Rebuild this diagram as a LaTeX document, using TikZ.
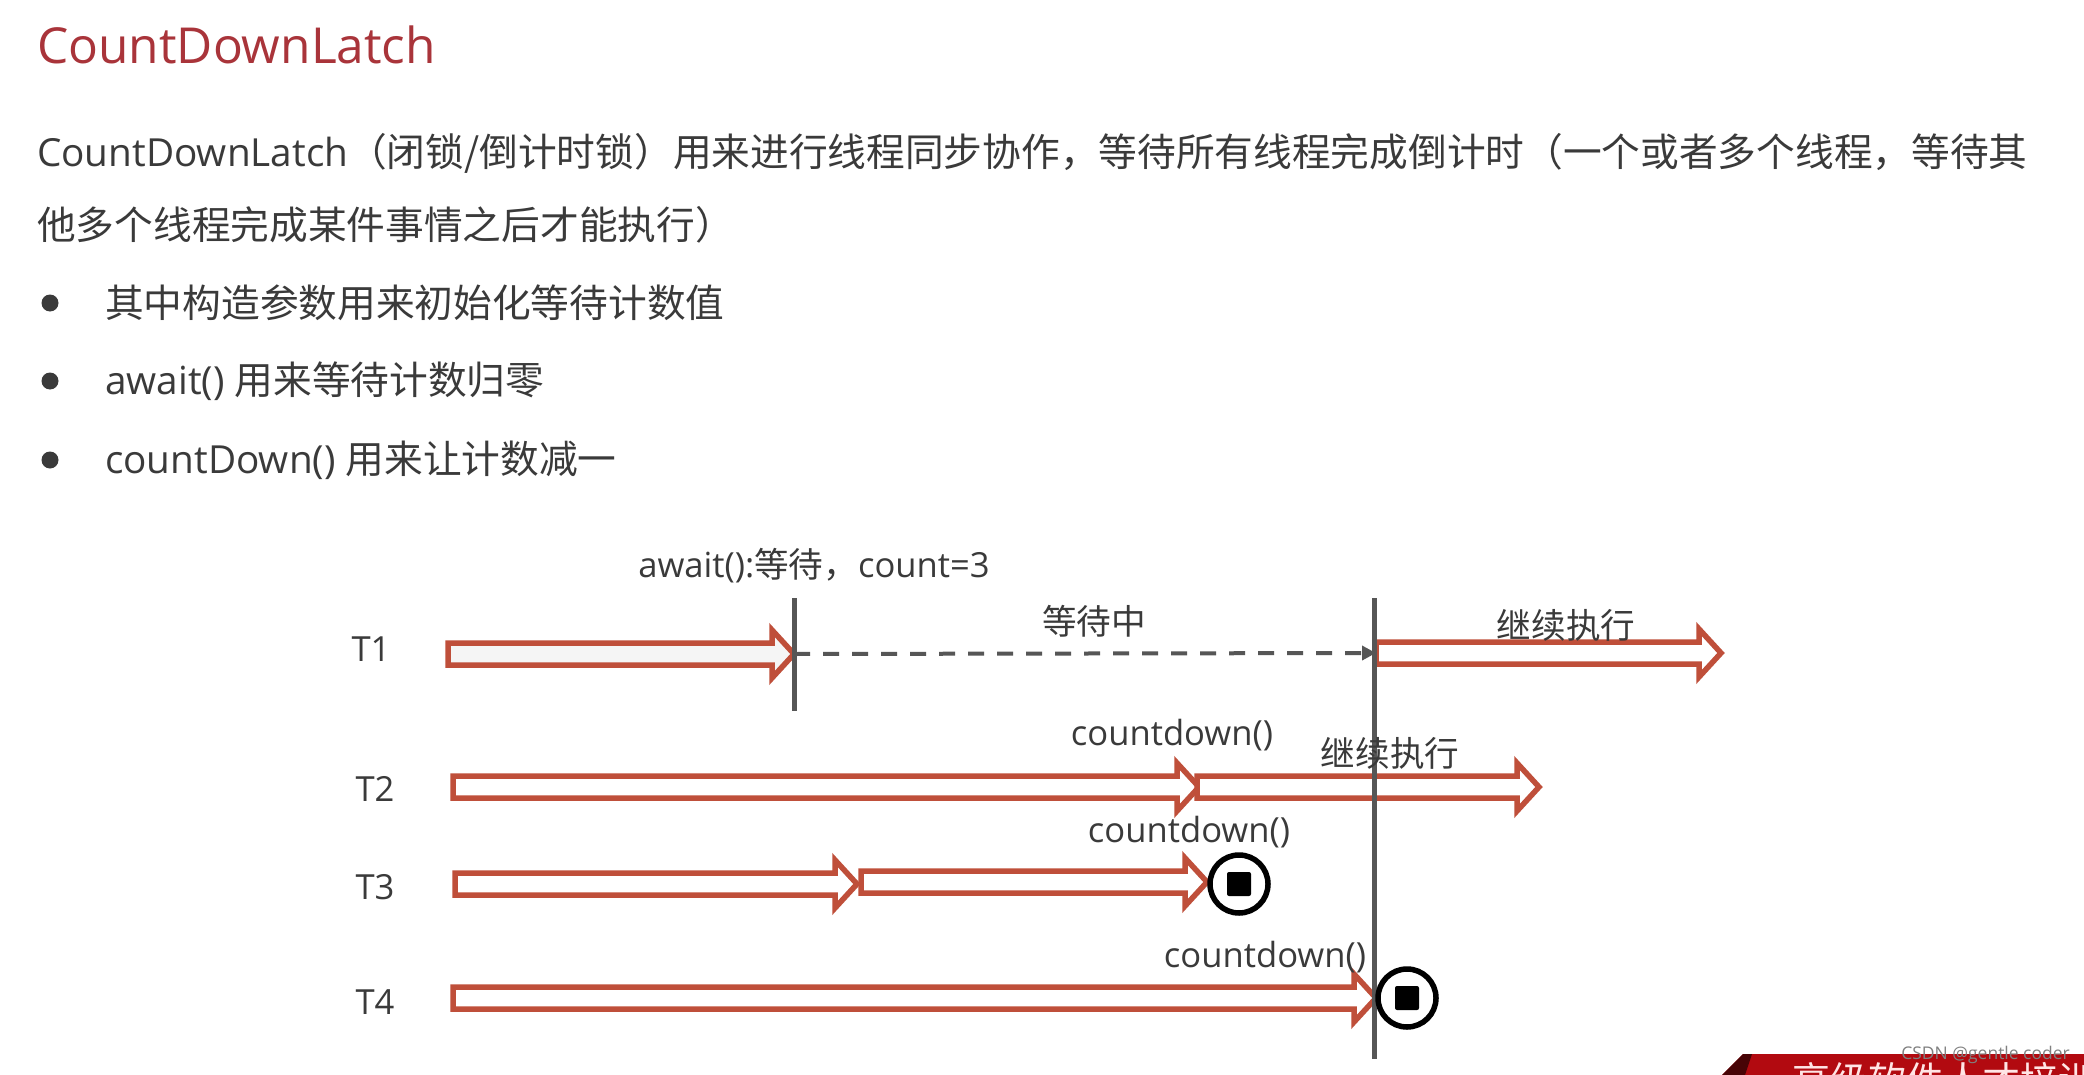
\documentclass[tikz,border=0pt]{standalone}
\usepackage{fontspec}
\setmainfont{Open Sans}
\newfontfamily\zhf{Noto Sans CJK SC}
\newcommand{\zh}[1]{{\zhf #1}}
\usetikzlibrary{calc,arrows.meta}
\definecolor{titlered}{HTML}{A9343A}
\definecolor{ink}{HTML}{3A3A3A}
\definecolor{fatred}{HTML}{BF4F3A}
\definecolor{barline}{HTML}{565656}
\definecolor{bandred}{HTML}{B20A10}
\tikzset{
  x=1pt,y=-1pt,
  bodytext/.style={font=\fontsize{38.7}{38.7}\selectfont,text=ink,anchor=west,inner sep=0pt},
  difftext/.style={font=\fontsize{34.6}{34.6}\selectfont,text=ink,anchor=center,inner sep=0pt},
  fatarrow/.style={draw=fatred,line width=5.5pt,fill=#1,miter limit=10},
  fatarrow/.default=white,
  barstyle/.style={draw=barline,line width=5pt},
  waitstyle/.style={draw=barline,line width=4pt,dash pattern=on 16pt off 13pt},
  stopring/.style={circle,draw=black,line width=5.5pt,fill=white,minimum size=58pt,inner sep=0pt},
  stopsquare/.style={rectangle,fill=black,rounded corners=2pt,minimum size=24pt,inner sep=0pt},
  bulletdot/.style={circle,fill=ink,minimum size=17pt,inner sep=0pt},
}
\newcommand{\fat}[3][white]{%
  \path[fatarrow=#1] let \p1=(#2),\p2=(#3) in
    (\x1,\y1-11pt) -- (\x2-22pt,\y1-11pt) -- (\x2-22pt,\y1-24pt) -- (\x2,\y2)
    -- (\x2-22pt,\y1+24pt) -- (\x2-22pt,\y1+11pt) -- (\x1,\y1+11pt) -- cycle;}
\begin{document}
\begin{tikzpicture}
\useasboundingbox (0,0) rectangle (2084,1075);
\fill[white] (0,0) rectangle (2084,1075);
% heading and text
\node[bodytext,font=\fontsize{49.6}{49.6}\selectfont,text=titlered] (title) at (37,45) {CountDownLatch};
\node[bodytext] (p1) at (37,153) {CountDownLatch\zh{（闭锁/倒计时锁）用来进行线程同步协作，等待所有线程完成倒计时（一个或者多个线程，等待其}};
\node[bodytext] (p2) at (37,225) {\zh{他多个线程完成某件事情之后才能执行）}};
\node[bulletdot] (b1) at (50,303) {};
\node[bulletdot] (b2) at (50,381) {};
\node[bulletdot] (b3) at (50,460) {};
\node[bodytext] (l1) at (105,303) {\zh{其中构造参数用来初始化等待计数值}};
\node[bodytext] (l2) at (105,381) {await() \zh{用来等待计数归零}};
\node[bodytext] (l3) at (105,460) {countDown() \zh{用来让计数减一}};
% thread labels
\node[difftext] (t1) at (371,649) {T1};
\node[difftext] (t2) at (375,789) {T2};
\node[difftext] (t3) at (375,887) {T3};
\node[difftext] (t4) at (375,1002) {T4};
% anchor points
\coordinate (a1s) at (448,654);
\coordinate (a1e) at (794,654);
\coordinate (a1r) at (1376,653);
\coordinate (a1f) at (1721,653);
\coordinate (a2s) at (453,787);
\coordinate (a2m) at (1199,787);
\coordinate (a2n) at (1197,787);
\coordinate (a2f) at (1539,787);
\coordinate (a3s) at (455,884);
\coordinate (a3m) at (857,884);
\coordinate (a3n) at (861,882);
\coordinate (a3f) at (1207,882);
\coordinate (a4s) at (453,998);
\coordinate (a4f) at (1376,998);
\coordinate (v1t) at (794,598);
\coordinate (v1b) at (794,711);
\coordinate (v2t) at (1374,598);
\coordinate (v2b) at (1374,1059);
% arrows
\fat[black!4]{a1s}{a1e}
\fat{a1r}{a1f}
\fat{a2s}{a2m}
\fat{a2n}{a2f}
\fat{a3s}{a3m}
\fat{a3n}{a3f}
\fat{a4s}{a4f}
% bars
\draw[barstyle] (v1t) -- (v1b);
\draw[barstyle] (v2t) -- (v2b);
\draw[waitstyle,-{Triangle[length=14pt,width=14pt]}] (a1e) -- (a1r);
% stop markers
\node[stopring] (s3) at (1239,884) {};
\node[stopsquare] at (s3) {};
\node[stopring] (s4) at (1407,998) {};
\node[stopsquare] at (s4) {};
% diagram labels
\node[difftext] (await) at (814,566) {await():\zh{等待，}count=3};
\node[difftext] (wait) at (1094,621) {\zh{等待中}};
\node[difftext] (go1) at (1566,625) {\zh{继续执行}};
\node[difftext] (cd2) at (1172,735) {countdown()};
\node[difftext] (go2) at (1390,753) {\zh{继续执行}};
\node[difftext] (cd3) at (1189,832) {countdown()};
\node[difftext] (cd4) at (1265,957) {countdown()};
% bottom band
\begin{scope}
\clip (0,0) rectangle (2084,1075);
\fill[bandred] (1722,1075) -- (1743,1054) -- (2084,1054) -- (2084,1075) -- cycle;
\fill[black!60!bandred] (1722,1075) -- (1743,1054) -- (1752,1054) -- (1745,1075) -- cycle;
\node[anchor=north west,inner sep=0pt,text=white!90!red,font=\zhf\fontsize{38}{38}\selectfont] (band) at (1792,1062) {高级软件人才培训};
\node[anchor=east,inner sep=0pt,text=black!50,font=\fontsize{17.5}{17.5}\selectfont] (wm) at (2070,1055) {CSDN @gentle coder};
\end{scope}
\end{tikzpicture}
\end{document}
